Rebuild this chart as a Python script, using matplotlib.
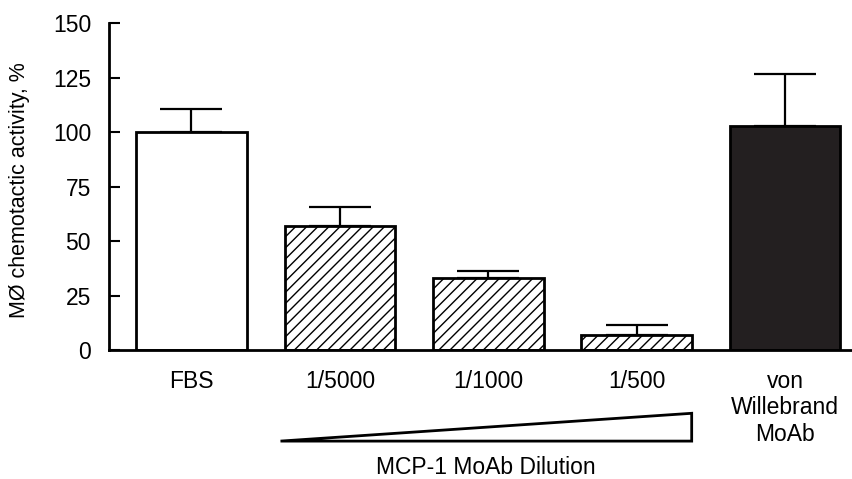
import matplotlib.pyplot as plt
from matplotlib.patches import Polygon
from matplotlib.transforms import blended_transform_factory

plt.rcParams['font.family'] = ['Liberation Sans', 'DejaVu Sans']
plt.rcParams['hatch.linewidth'] = 1.0

# bar data
groups = ['FBS', '1/5000', '1/1000', '1/500', 'von\nWillebrand\nMoAb']
activity = [100, 57, 33, 7, 103]
err_upper = [10.5, 8.5, 3.5, 4.5, 23.5]
fills = ['white', 'white', 'white', 'white', '#231f20']
hatches = ['', '///', '///', '///', '']

fs = 16.5

fig = plt.figure(figsize=(8.52, 4.79), dpi=100)
ax = fig.add_axes([0.128, 0.269, 0.872, 0.683])

pos = list(range(len(groups)))
ax.errorbar(pos, activity, yerr=[[0] * len(pos), err_upper], fmt='none',
            ecolor='black', elinewidth=1.6, capsize=22, capthick=1.6, zorder=1)
for i in pos:
    ax.bar(i, activity[i], width=0.745, color=fills[i], hatch=hatches[i],
           edgecolor='black', linewidth=2, zorder=2)

ax.set_xlim(-0.555, 4.45)
ax.set_ylim(0, 150)
ax.set_yticks([0, 25, 50, 75, 100, 125, 150])
ax.tick_params(axis='y', direction='in', length=8, width=1.5, pad=13,
               labelsize=fs)
ax.tick_params(axis='x', length=0, pad=14, labelsize=fs)
ax.set_xticks(pos)
ax.set_xticklabels(groups, linespacing=1.2)

for s in ['top', 'right']:
    ax.spines[s].set_visible(False)
ax.spines['left'].set_linewidth(2)
ax.spines['bottom'].set_linewidth(2)

ax.set_ylabel('MØ chemotactic activity, %', fontsize=15.5)
ax.yaxis.set_label_coords(-0.106, 0.49)

# dilution wedge under the MCP-1 bars
trans = blended_transform_factory(ax.transData, ax.transAxes)
wedge = Polygon([[0.60, -0.278], [3.37, -0.193], [3.37, -0.278]],
                closed=True, fill=False, edgecolor='black', linewidth=2,
                transform=trans, clip_on=False)
ax.add_patch(wedge)
ax.text(1.985, -0.36, 'MCP-1 MoAb Dilution', transform=trans,
        ha='center', va='center', fontsize=fs)

fig.savefig('out.png', dpi=100)
